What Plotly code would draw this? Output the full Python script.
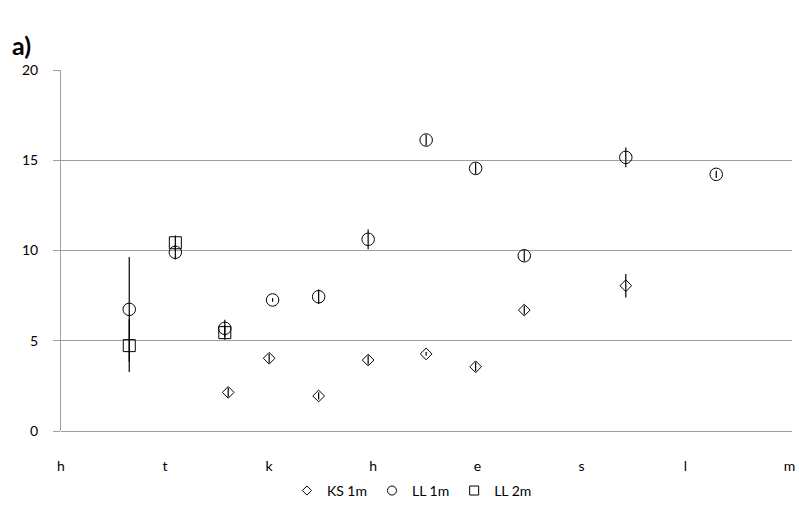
import plotly.graph_objects as go

# Sampling dates and measured values per series
ks1_dates = ["2010-05-20", "2010-06-01", "2010-06-15 12:00", "2010-06-30", "2010-07-17",
             "2010-07-31 12:00", "2010-08-14 18:00", "2010-09-13 12:00"]
ks1_vals = [2.14, 4.03, 1.94, 3.93, 4.27, 3.56, 6.70, 8.05]
ks1_err = [0.25, 0.25, 0.2, 0.25, 0.1, 0.25, 0.25, 0.65]

ll1_dates = ["2010-04-21", "2010-05-04 12:00", "2010-05-19", "2010-06-02", "2010-06-15 12:00",
             "2010-06-30", "2010-07-17", "2010-07-31 12:00", "2010-08-14 18:00",
             "2010-09-13 12:00", "2010-10-10"]
ll1_vals = [6.74, 9.90, 5.69, 7.26, 7.44, 10.62, 16.12, 14.55, 9.71, 15.16, 14.22]
ll1_err = [2.9, 0.4, 0.47, 0.1, 0.4, 0.55, 0.3, 0.3, 0.3, 0.55, 0.2]

ll2_dates = ["2010-04-21", "2010-05-04 12:00", "2010-05-19"]
ll2_vals = [4.73, 10.43, 5.45]
ll2_err = [1.46, 0.4, 0.4]

# Month markers every 30.5 days along the season axis
month_ticks = ["2010-04-01 00:00", "2010-05-01 12:00", "2010-06-01 00:00",
               "2010-07-01 12:00", "2010-08-01 00:00", "2010-08-31 12:00",
               "2010-10-01 00:00", "2010-10-31 12:00"]
month_labels = ["h", "t", "k", "h", "e", "s", "l", "m"]

FONT = "Lato, 'Open Sans', sans-serif"


def series(name, x, y, err, symbol, size):
    return go.Scatter(
        x=x, y=y, name=name, mode="markers", showlegend=False,
        marker=dict(symbol=symbol, size=size, color="black",
                    line=dict(color="black", width=1)),
        error_y=dict(type="data", array=err, visible=True, color="black",
                     thickness=1.2, width=0),
    )


def legend_entry(name, symbol, size):
    # marker-only entry so the legend shows small symbols without error bars
    return go.Scatter(
        x=[None], y=[None], name=name, mode="markers",
        marker=dict(symbol=symbol, size=size, color="black",
                    line=dict(color="black", width=1)),
    )


fig = go.Figure()
fig.add_trace(series("KS 1m", ks1_dates, ks1_vals, ks1_err, "diamond-open", 9))
fig.add_trace(series("LL 1m", ll1_dates, ll1_vals, ll1_err, "circle-open", 12.5))
fig.add_trace(series("LL 2m", ll2_dates, ll2_vals, ll2_err, "square-open", 12))
fig.add_trace(legend_entry("KS 1m", "diamond-open", 7))
fig.add_trace(legend_entry("LL 1m", "circle-open", 9))
fig.add_trace(legend_entry("LL 2m", "square-open", 9))

fig.update_layout(
    width=799, height=511,
    margin=dict(l=61, r=7, t=70, b=80, autoexpand=False),
    paper_bgcolor="white", plot_bgcolor="white",
    font=dict(family=FONT, size=14, color="black"),
    showlegend=True,
    legend=dict(orientation="h", x=0.48, xanchor="center", y=-0.166,
                yanchor="middle", font=dict(size=14), itemwidth=30,
                tracegroupgap=0),
    annotations=[dict(text="<b>a)</b>", x=-0.07, y=1.069, xref="paper",
                      yref="paper", xanchor="left", yanchor="middle",
                      showarrow=False, font=dict(size=25, family=FONT))],
)

fig.update_xaxes(
    type="date", range=["2010-04-01", "2010-11-01 04:48"],
    tickvals=month_ticks, ticktext=month_labels,
    showgrid=False, zeroline=False, automargin=False,
    showline=False, ticks="", ticklabelstandoff=25,
    ticklabeloverflow="allow",
    tickfont=dict(size=14),
)
fig.update_yaxes(
    range=[0, 20], tickvals=[0, 5, 10, 15, 20], automargin=False,
    showgrid=True, gridcolor="#9e9e9e", gridwidth=1,
    zeroline=True, zerolinecolor="#9e9e9e", zerolinewidth=1,
    showline=True, linecolor="#9e9e9e", linewidth=1,
    ticks="outside", ticklen=7, tickcolor="#9e9e9e",
    tickfont=dict(size=14), ticklabelstandoff=12,
)

fig.write_html("out.html")
